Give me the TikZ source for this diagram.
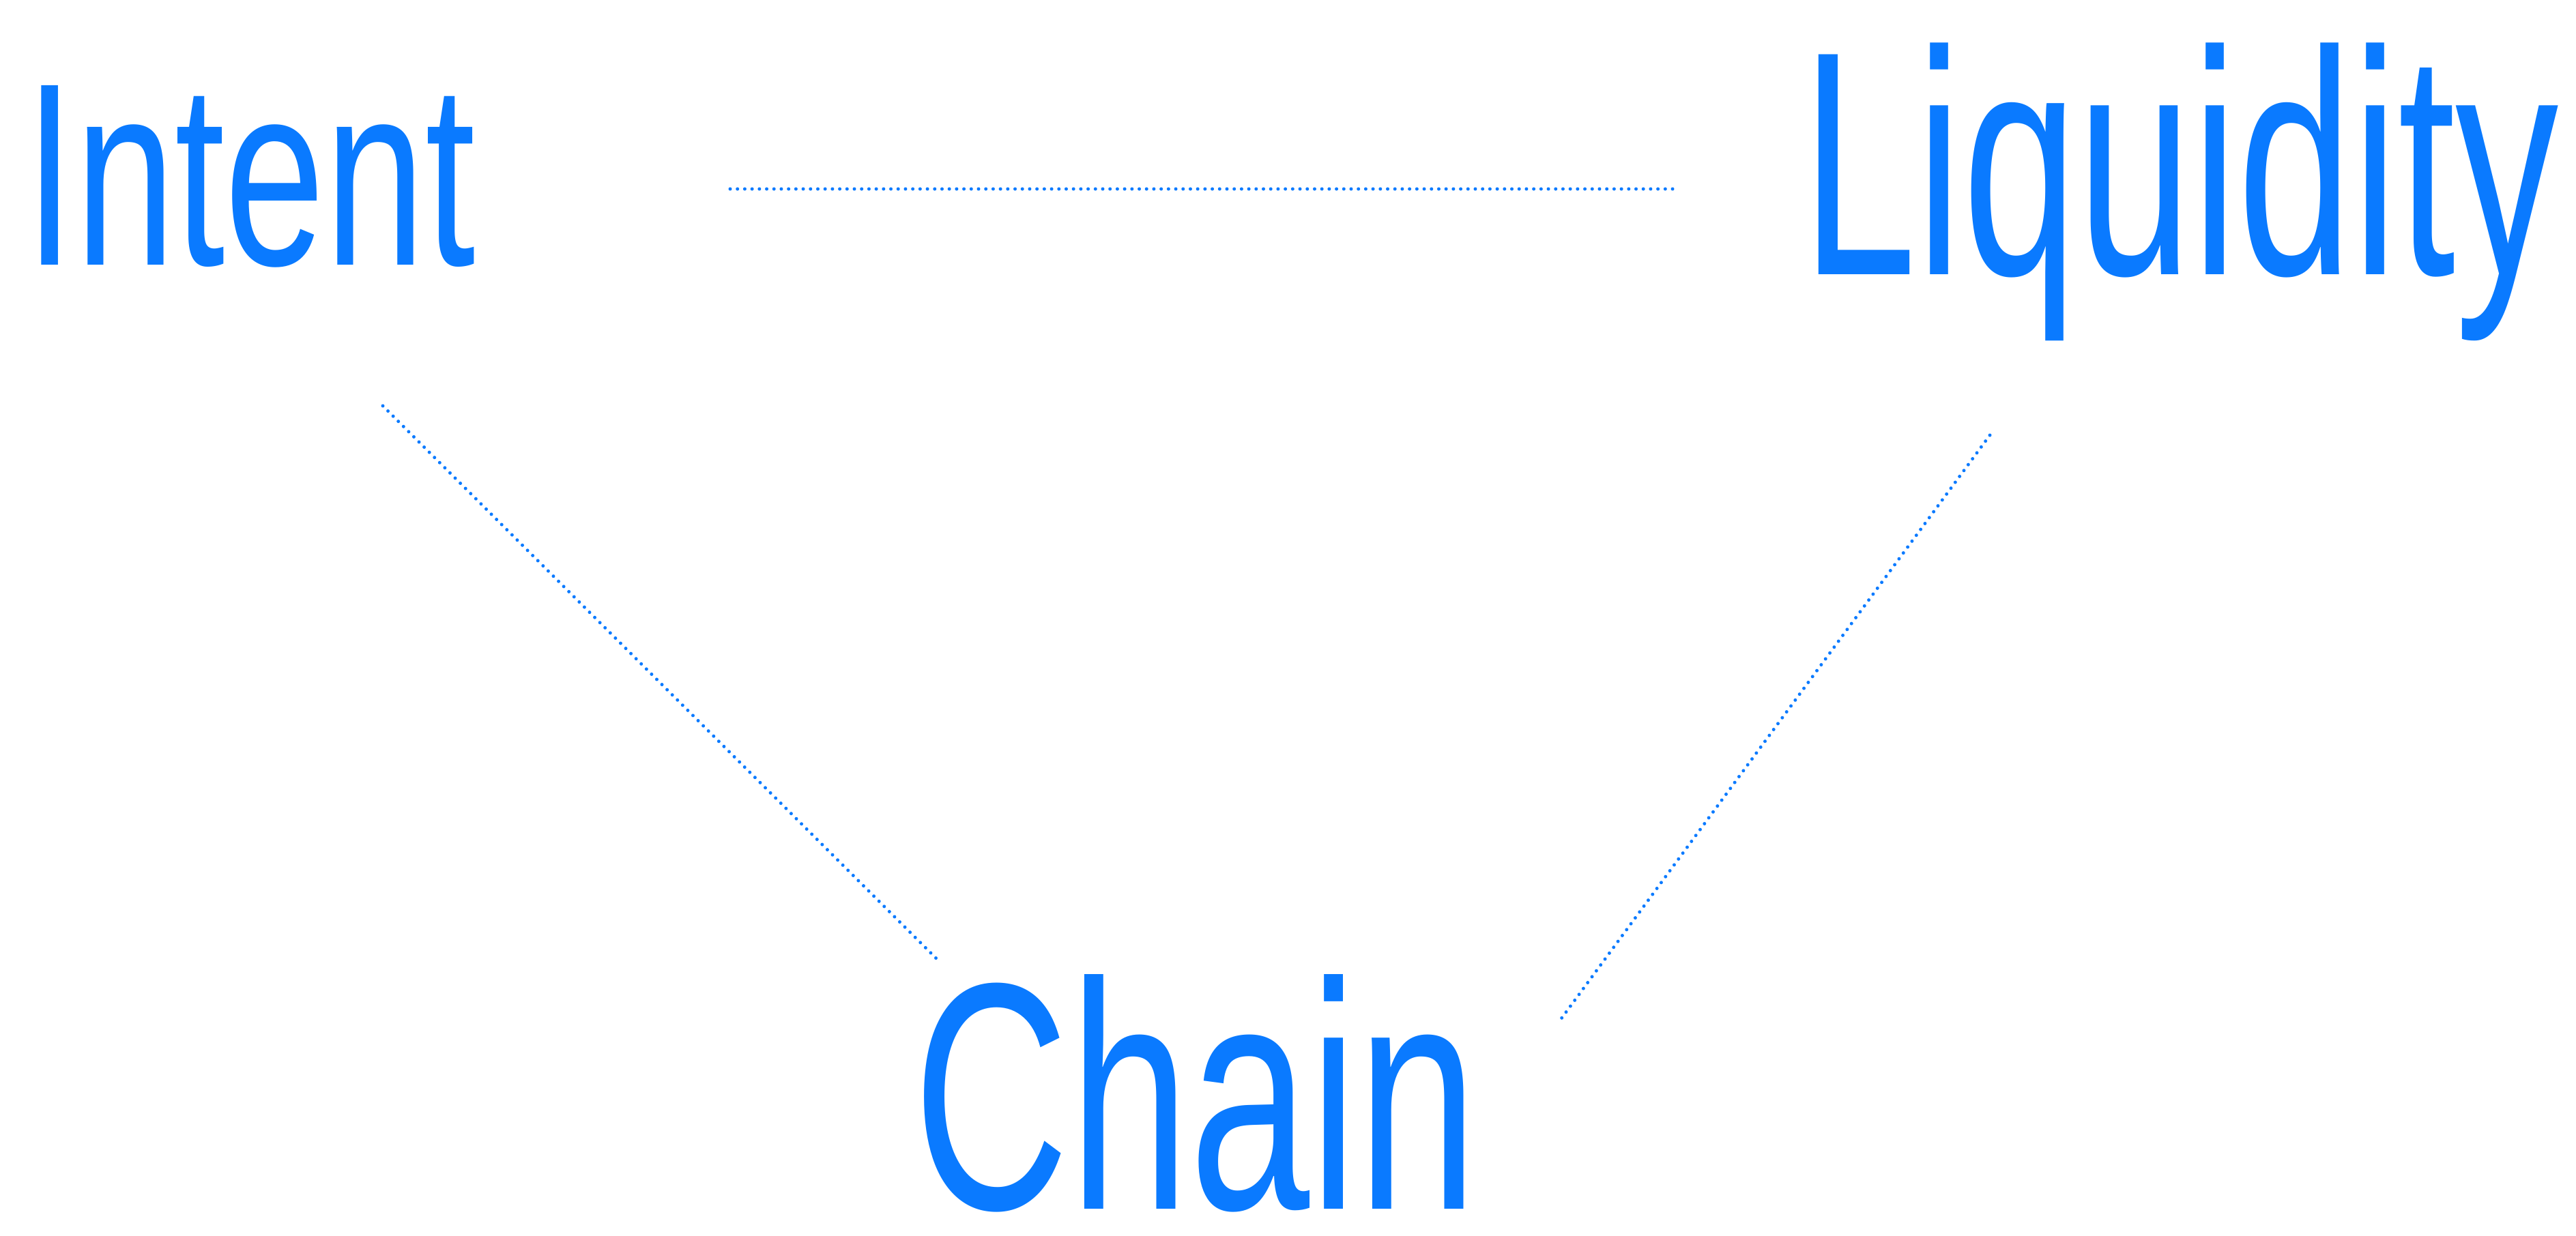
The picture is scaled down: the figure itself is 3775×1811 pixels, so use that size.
\documentclass[tikz,border=0pt]{standalone}
\usepackage{fontspec}
\setmainfont{Liberation Sans}
\definecolor{ink}{HTML}{0A7AFF}
\newcommand{\nodepth}[1]{\raisebox{0pt}[\height][0pt]{#1}}
\begin{document}
\begin{tikzpicture}[x=0.01cm,y=-0.01cm,
  word/.style={anchor=base west,inner sep=0pt,text=ink},
  dotline/.style={draw=ink,line width=0.05cm,line cap=round,dash pattern=on 0pt off 0.107cm}]
\useasboundingbox (0,0) rectangle (3775,1811);
\node[word,font=\fontsize{75pt}{80pt}\selectfont] (intent) at (36,388) {\scalebox{1}[1.45]{Intent}};
\node[word,font=\fontsize{86pt}{90pt}\selectfont] (liquidity) at (2640,402) {\scalebox{1}[1.55]{Liquidity}};
\node[word,font=\fontsize{90pt}{96pt}\selectfont] (chain) at (1338,1772) {\nodepth{\scalebox{1}[1.5]{Chain}}};
\coordinate (t1) at (1070,277);
\coordinate (t2) at (2454,277);
\coordinate (l1) at (561,595);
\coordinate (l2) at (1373,1406);
\coordinate (r1) at (2916,638);
\coordinate (r2) at (2283,1500);
\draw[dotline] (t1) -- (t2);
\draw[dotline] (l1) -- (l2);
\draw[dotline] (r1) -- (r2);
\end{tikzpicture}
\end{document}
